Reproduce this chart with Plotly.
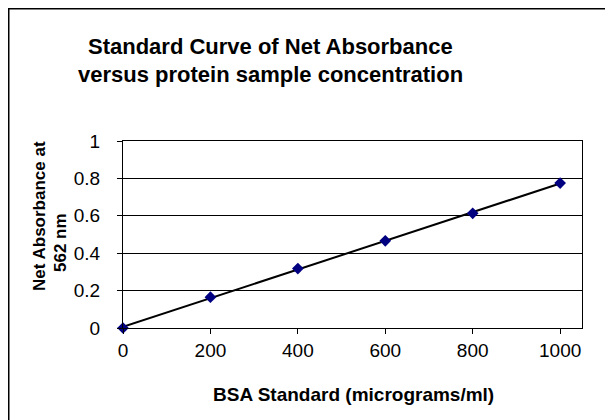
import numpy as np
import plotly.graph_objects as go

conc = [0, 200, 400, 600, 800, 1000]
absorb = [0.0, 0.165, 0.318, 0.466, 0.613, 0.775]
x_ticks = [0, 200, 400, 600, 800, 1000]
y_ticks = [0, 0.2, 0.4, 0.6, 0.8, 1]
title_lines = ["Standard Curve of Net Absorbance", "versus protein sample concentration"]

slope, intercept = np.polyfit(conc, absorb, 1)
fit_x = [min(conc), max(conc)]
fit_y = [intercept + slope * v for v in fit_x]

# page body has an 8px margin, so figure pixels = screen pixels - 8
W, H = 613, 420
L, R, T, B = 115, 39, 133, 100
pw, ph = W - L - R, H - T - B

def px_x(p):
    return (p - L) / pw

def px_y(p):
    return (H - B - p) / ph

fig = go.Figure()
fig.add_trace(go.Scatter(x=fit_x, y=fit_y, mode="lines",
                         line=dict(color="black", width=2), hoverinfo="skip"))
fig.add_trace(go.Scatter(x=conc, y=absorb, mode="markers",
                         marker=dict(symbol="diamond", size=9, color="#000080"),
                         cliponaxis=False))

font = "Arial, Liberation Sans, sans-serif"
annos = [
    dict(text="<b>Net Absorbance at</b>", xref="paper", yref="paper",
         x=px_x(31), y=px_y(208), xanchor="center", yanchor="middle",
         textangle=-90, showarrow=False, font=dict(size=17, family=font)),
    dict(text="<b>562 nm</b>", xref="paper", yref="paper",
         x=px_x(52), y=px_y(234), xanchor="center", yanchor="middle",
         textangle=-90, showarrow=False, font=dict(size=17, family=font)),
    dict(text="<b>BSA Standard (micrograms/ml)</b>", xref="paper", yref="paper",
         x=px_x(345), y=px_y(386), xanchor="center", yanchor="middle",
         showarrow=False, font=dict(size=19, family=font)),
]
for txt, cy in zip(title_lines, [38, 67]):
    annos.append(dict(text="<b>" + txt + "</b>", xref="paper", yref="paper",
                      x=px_x(262), y=px_y(cy), xanchor="center", yanchor="middle",
                      showarrow=False, font=dict(size=22, family=font)))

fig.update_layout(
    width=W, height=H,
    margin=dict(l=L, r=R, t=T, b=B),
    paper_bgcolor="white", plot_bgcolor="white",
    showlegend=False,
    font=dict(family=font, color="black", size=19),
    xaxis=dict(range=[0, 1050], tickvals=x_ticks, showgrid=False, zeroline=False,
               showline=True, linecolor="black", linewidth=1, mirror=True,
               ticks="outside", ticklen=5, tickcolor="black",
               ticklabelstandoff=0, tickfont=dict(size=19)),
    yaxis=dict(range=[0, 1], tickvals=y_ticks, showgrid=True, gridcolor="black",
               gridwidth=1, zeroline=False,
               showline=True, linecolor="black", linewidth=1, mirror=True,
               ticks="outside", ticklen=5, tickcolor="black",
               ticklabelstandoff=13, tickfont=dict(size=19)),
    annotations=annos,
    shapes=[
        dict(type="rect", xref="paper", yref="paper",
             x0=px_x(0.5), x1=px_x(640), y0=px_y(450), y1=px_y(0.5),
             line=dict(color="black", width=2), fillcolor="rgba(0,0,0,0)", layer="below"),
    ],
)

fig.write_html("out.html")
